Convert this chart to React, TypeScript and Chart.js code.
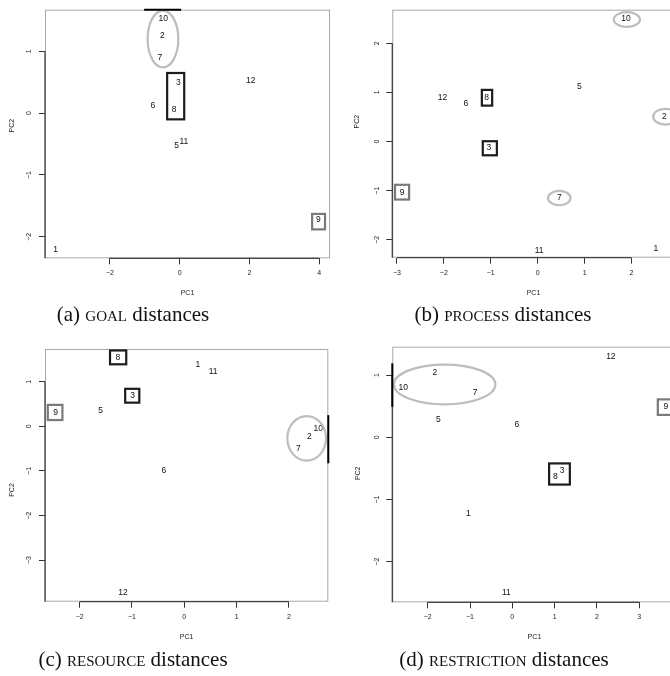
import React, { useEffect, useRef } from "react";
import { Chart, registerables } from "chart.js";

Chart.register(...registerables);

// ---------- data ----------
const pointLabels = ["1", "2", "3", "5", "6", "7", "8", "9", "10", "11", "12"];

// (a) GOAL distances
const goalPC1 = [-3.56, -0.5, -0.04, -0.09, -0.77, -0.57, -0.16, 3.98, -0.47, 0.12, 2.04];
const goalPC2 = [-2.21, 1.25, 0.5, -0.52, 0.12, 0.9, 0.06, -1.73, 1.53, -0.46, 0.52];
const goalXRange = [-3.865, 4.313];
const goalYRange = [-2.348, 1.674];
const goalXStep = 2;
const goalYStep = 1;
const goalEllipses = [{ cx: -0.48, cy: 1.2, rx: 0.44, ry: 0.46 }];
const goalDarkBoxes = [{ x1: -0.36, x2: 0.13, y1: -0.1, y2: 0.65 }];
const goalGreyBoxes = [{ x1: 3.8, x2: 4.17, y1: -1.88, y2: -1.63 }];
const goalEdgeMarks = [{ side: "top", from: -1.02, to: 0.04 }];

// (b) PROCESS distances
const processPC1 = [2.52, 2.7, -1.04, 0.89, -1.53, 0.46, -1.09, -2.89, 1.88, 0.03, -2.03];
const processPC2 = [-2.18, 0.505, -0.13, 1.12, 0.77, -1.15, 0.9, -1.03, 2.49, -2.21, 0.89];
const processXRange = [-3.098, 2.919];
const processYRange = [-2.363, 2.681];
const processXStep = 1;
const processYStep = 1;
const processEllipses = [
  { cx: 1.9, cy: 2.48, rx: 0.28, ry: 0.15 },
  { cx: 0.46, cy: -1.15, rx: 0.24, ry: 0.146 },
  { cx: 2.72, cy: 0.505, rx: 0.26, ry: 0.16 },
];
const processDarkBoxes = [
  { x1: -1.19, x2: -0.97, y1: 0.73, y2: 1.05 },
  { x1: -1.17, x2: -0.87, y1: -0.28, y2: 0.006 },
];
const processGreyBoxes = [{ x1: -3.04, x2: -2.74, y1: -1.18, y2: -0.88 }];
const processEdgeMarks: { side: string; from: number; to: number }[] = [];

// (c) RESOURCE distances
const resourcePC1 = [0.26, 2.39, -0.99, -1.6, -0.39, 2.18, -1.27, -2.46, 2.56, 0.55, -1.17];
const resourcePC2 = [1.39, -0.23, 0.68, 0.35, -1.0, -0.51, 1.54, 0.3, -0.05, 1.22, -3.73];
const resourceXRange = [-2.663, 2.753];
const resourceYRange = [-3.933, 1.733];
const resourceXStep = 1;
const resourceYStep = 1;
const resourceEllipses = [{ cx: 2.34, cy: -0.27, rx: 0.37, ry: 0.5 }];
const resourceDarkBoxes = [
  { x1: -1.42, x2: -1.11, y1: 1.39, y2: 1.7 },
  { x1: -1.13, x2: -0.86, y1: 0.53, y2: 0.84 },
];
const resourceGreyBoxes = [{ x1: -2.61, x2: -2.33, y1: 0.14, y2: 0.48 }];
const resourceEdgeMarks = [{ side: "right", from: -0.83, to: 0.25 }];

// (d) RESTRICTION distances
const restrictionPC1 = [-1.04, -1.83, 1.18, -1.75, 0.11, -0.88, 1.02, 3.63, -2.58, -0.14, 2.33];
const restrictionPC2 = [-1.23, 1.04, -0.54, 0.29, 0.21, 0.71, -0.63, 0.49, 0.8, -2.5, 1.3];
const restrictionXRange = [-2.837, 3.879];
const restrictionYRange = [-2.653, 1.457];
const restrictionXStep = 1;
const restrictionYStep = 1;
const restrictionEllipses = [{ cx: -1.6, cy: 0.85, rx: 1.2, ry: 0.32 }];
const restrictionDarkBoxes = [{ x1: 0.87, x2: 1.36, y1: -0.76, y2: -0.42 }];
const restrictionGreyBoxes = [{ x1: 3.44, x2: 3.8, y1: 0.36, y2: 0.61 }];
const restrictionEdgeMarks = [{ side: "left", from: 0.49, to: 1.19 }];

// ---------- layout ----------
const SANS = "'Liberation Sans', Arial, sans-serif";
const SERIF = "'Liberation Serif', 'DejaVu Serif', serif";

type Panel = {
  pc1: number[];
  pc2: number[];
  xRange: number[];
  yRange: number[];
  xStep: number;
  yStep: number;
  ellipses: { cx: number; cy: number; rx: number; ry: number }[];
  darkBoxes: { x1: number; x2: number; y1: number; y2: number }[];
  greyBoxes: { x1: number; x2: number; y1: number; y2: number }[];
  edgeMarks: { side: string; from: number; to: number }[];
  left: number;
  top: number;
  w: number;
  h: number;
  clipW: number;
  area: { l: number; t: number; r: number; b: number };
  pc1Y: number;
  pc2X: number;
  pc2Y: number;
};

const panels: Panel[] = [
  {
    pc1: goalPC1, pc2: goalPC2, xRange: goalXRange, yRange: goalYRange, xStep: goalXStep, yStep: goalYStep,
    ellipses: goalEllipses, darkBoxes: goalDarkBoxes, greyBoxes: goalGreyBoxes, edgeMarks: goalEdgeMarks,
    left: 0, top: 0, w: 335, h: 330, clipW: 335,
    area: { l: 45, t: 5, r: 330, b: 258.3 }, pc1Y: 293.3, pc2X: 11.7, pc2Y: 125.7,
  },
  {
    pc1: processPC1, pc2: processPC2, xRange: processXRange, yRange: processYRange, xStep: processXStep, yStep: processYStep,
    ellipses: processEllipses, darkBoxes: processDarkBoxes, greyBoxes: processGreyBoxes, edgeMarks: processEdgeMarks,
    left: 335, top: 0, w: 345, h: 330, clipW: 335,
    area: { l: 57.3, t: 5, r: 339.7, b: 257.7 }, pc1Y: 293.3, pc2X: 22.3, pc2Y: 121.7,
  },
  {
    pc1: resourcePC1, pc2: resourcePC2, xRange: resourceXRange, yRange: resourceYRange, xStep: resourceXStep, yStep: resourceYStep,
    ellipses: resourceEllipses, darkBoxes: resourceDarkBoxes, greyBoxes: resourceGreyBoxes, edgeMarks: resourceEdgeMarks,
    left: 0, top: 330, w: 335, h: 346, clipW: 335,
    area: { l: 45, t: 19, r: 328.3, b: 271.7 }, pc1Y: 307.3, pc2X: 11.7, pc2Y: 160,
  },
  {
    pc1: restrictionPC1, pc2: restrictionPC2, xRange: restrictionXRange, yRange: restrictionYRange, xStep: restrictionXStep, yStep: restrictionYStep,
    ellipses: restrictionEllipses, darkBoxes: restrictionDarkBoxes, greyBoxes: restrictionGreyBoxes, edgeMarks: restrictionEdgeMarks,
    left: 335, top: 330, w: 345, h: 346, clipW: 335,
    area: { l: 57.3, t: 16.7, r: 341.4, b: 272.3 }, pc1Y: 307.3, pc2X: 23.3, pc2Y: 143.3,
  },
];

const captions = [
  { label: "(a) ", sc: "goal", cx: 133, cy: 314 },
  { label: "(b) ", sc: "process", cx: 503, cy: 314 },
  { label: "(c) ", sc: "resource", cx: 133, cy: 659 },
  { label: "(d) ", sc: "restriction", cx: 504, cy: 659 },
];

const minus = (v: any) => String(v).replace("-", "\u2212");

function decorPlugin(p: Panel) {
  return {
    id: "decor",
    beforeDatasetsDraw(chart: any) {
      const { ctx, chartArea: a, scales } = chart;
      ctx.save();
      ctx.strokeStyle = "#a8a8a8";
      ctx.lineWidth = 1;
      ctx.strokeRect(a.left + 0.5, a.top + 0.5, a.right - a.left - 1, a.bottom - a.top - 1);
      const xs = scales.x.ticks.map((t: any) => scales.x.getPixelForValue(t.value));
      const ys = scales.y.ticks.map((t: any) => scales.y.getPixelForValue(t.value));
      ctx.strokeStyle = "#444";
      ctx.lineWidth = 1.3;
      ctx.beginPath();
      ctx.moveTo(Math.min(...xs), a.bottom);
      ctx.lineTo(Math.max(...xs), a.bottom);
      ctx.moveTo(a.left, Math.min(...ys));
      ctx.lineTo(a.left, a.bottom);
      ctx.stroke();
      ctx.restore();
    },
    afterDatasetsDraw(chart: any) {
      const { ctx, chartArea: a, scales } = chart;
      const X = (v: number) => scales.x.getPixelForValue(v);
      const Y = (v: number) => scales.y.getPixelForValue(v);
      const meta = chart.getDatasetMeta(0);
      ctx.save();
      ctx.font = `8.5px ${SANS}`;
      ctx.fillStyle = "#111";
      ctx.textAlign = "center";
      ctx.textBaseline = "middle";
      meta.data.forEach((el: any, i: number) => {
        ctx.fillText(pointLabels[i], el.x, el.y);
      });
      ctx.save();
      ctx.beginPath();
      ctx.rect(a.left, a.top, a.right - a.left, a.bottom - a.top);
      ctx.clip();
      ctx.lineWidth = 2.2;
      ctx.strokeStyle = "#bdbdbd";
      p.ellipses.forEach((e) => {
        const cx = X(e.cx), cy = Y(e.cy);
        const rx = Math.abs(X(e.cx + e.rx) - cx);
        const ry = Math.abs(Y(e.cy + e.ry) - cy);
        ctx.beginPath();
        ctx.ellipse(cx, cy, rx, ry, 0, 0, Math.PI * 2);
        ctx.stroke();
      });
      const box = (b: any, color: string) => {
        const x1 = X(b.x1), x2 = X(b.x2), y1 = Y(b.y2), y2 = Y(b.y1);
        ctx.strokeStyle = color;
        ctx.strokeRect(x1, y1, x2 - x1, y2 - y1);
      };
      p.darkBoxes.forEach((b) => box(b, "#1c1c1c"));
      p.greyBoxes.forEach((b) => box(b, "#7a7a7a"));
      ctx.restore();
      ctx.strokeStyle = "#000";
      ctx.lineWidth = 2;
      p.edgeMarks.forEach((m) => {
        ctx.beginPath();
        if (m.side === "top") {
          ctx.moveTo(X(m.from), a.top);
          ctx.lineTo(X(m.to), a.top);
        } else if (m.side === "right") {
          ctx.moveTo(a.right, Y(m.from));
          ctx.lineTo(a.right, Y(m.to));
        } else {
          ctx.moveTo(a.left, Y(m.from));
          ctx.lineTo(a.left, Y(m.to));
        }
        ctx.stroke();
      });
      ctx.fillStyle = "#222";
      ctx.font = `7px ${SANS}`;
      ctx.fillText("PC1", (a.left + a.right) / 2, p.pc1Y);
      ctx.translate(p.pc2X, p.pc2Y);
      ctx.rotate(-Math.PI / 2);
      ctx.fillText("PC2", 0, 0);
      ctx.restore();
    },
  };
}

function buildConfig(p: Panel): any {
  const data = p.pc1.map((x, i) => ({ x, y: p.pc2[i] }));
  const tickFont = { family: SANS, size: 7 };
  const grid = { display: true, drawOnChartArea: false, drawTicks: true, tickLength: 6, color: "#333", lineWidth: 1 };
  return {
    type: "scatter",
    data: { datasets: [{ data, pointRadius: 0, pointHoverRadius: 0, showLine: false }] },
    options: {
      animation: false,
      responsive: false,
      maintainAspectRatio: false,
      events: [],
      layout: { padding: { left: 0, top: p.area.t, right: p.w - p.area.r, bottom: 0 } },
      plugins: { legend: { display: false }, tooltip: { enabled: false }, title: { display: false } },
      scales: {
        x: {
          type: "linear",
          position: "bottom",
          min: p.xRange[0],
          max: p.xRange[1],
          afterFit: (s: any) => { s.height = p.h - p.area.b; },
          grid,
          border: { display: false },
          ticks: {
            stepSize: p.xStep, includeBounds: false, autoSkip: false, minRotation: 0, maxRotation: 0,
            padding: 5, color: "#222", font: tickFont, callback: minus,
          },
        },
        y: {
          type: "linear",
          position: "left",
          min: p.yRange[0],
          max: p.yRange[1],
          afterFit: (s: any) => { s.width = p.area.l; },
          grid,
          border: { display: false },
          ticks: {
            stepSize: p.yStep, includeBounds: false, autoSkip: false, minRotation: 90, maxRotation: 90,
            crossAlign: "center", padding: 5.5, color: "#222", font: tickFont, callback: minus,
          },
        },
      },
    },
    plugins: [decorPlugin(p)],
  };
}

function PanelChart({ p }: { p: Panel }) {
  const ref = useRef<HTMLCanvasElement | null>(null);
  useEffect(() => {
    if (!ref.current) return;
    const chart = new Chart(ref.current, buildConfig(p));
    return () => chart.destroy();
  }, [p]);
  return (
    <div style={{ position: "absolute", left: p.left, top: p.top, width: p.clipW, height: p.h, overflow: "hidden" }}>
      <canvas ref={ref} width={p.w} height={p.h} style={{ width: p.w, height: p.h, display: "block" }} />
    </div>
  );
}

export default function App() {
  return (
    <div style={{ position: "absolute", left: 0, top: 0, width: 670, height: 676, background: "#fff", overflow: "hidden" }}>
      {panels.map((p, i) => (
        <PanelChart key={i} p={p} />
      ))}
      {captions.map((c, i) => (
        <div
          key={"c" + i}
          style={{
            position: "absolute",
            left: c.cx - 170,
            top: c.cy - 14,
            width: 340,
            height: 28,
            lineHeight: "28px",
            textAlign: "center",
            fontFamily: SERIF,
            fontSize: 21,
            color: "#111",
            whiteSpace: "nowrap",
          }}
        >
          {c.label}
          <span style={{ fontVariant: "small-caps" }}>{c.sc}</span>
          {" distances"}
        </div>
      ))}
    </div>
  );
}
